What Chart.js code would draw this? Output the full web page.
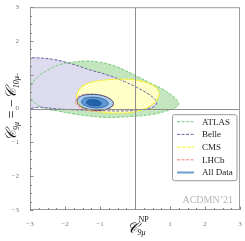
<!DOCTYPE html>
<html>
<head>
<meta charset="utf-8">
<script src="https://cdn.jsdelivr.net/npm/chart.js@4.4.0/dist/chart.umd.min.js"></script>
<style>
  html, body { margin: 0; padding: 0; background: #fff; }
  #wrap { width: 245px; height: 241px; }
</style>
</head>
<body>
<div id="wrap"><canvas id="c"></canvas></div>
<script>
// contour outlines (x = C9, y = C9 = -C10), closed loops
var atlasX = [-3.0, -2.95, -2.8, -2.5, -2.15, -1.8, -1.4, -1.0, -0.55, 0.05, 0.45, 0.75, 1.0, 1.2, 1.25, 1.15, 0.9, 0.5, 0.1, -0.4, -0.85, -1.3, -1.8, -2.2, -2.55, -2.8, -2.95, -3.0];
var atlasY = [0.42, 0.7, 0.92, 1.13, 1.3, 1.37, 1.41, 1.37, 1.25, 0.96, 0.75, 0.6, 0.43, 0.25, 0.13, 0.03, -0.07, -0.17, -0.22, -0.25, -0.26, -0.22, -0.15, -0.07, -0.01, 0.12, 0.27, 0.42];

var belleX = [-3.2, -2.75, -2.3, -1.8, -1.3, -0.8, -0.3, 0.1, 0.4, 0.57, 0.62, 0.56, 0.4, 0.1, -0.4, -1.0, -1.6, -2.2, -2.7, -3.2, -3.2];
var belleY = [1.5, 1.5, 1.45, 1.32, 1.15, 1.0, 0.8, 0.6, 0.42, 0.27, 0.17, 0.07, 0.0, -0.05, -0.07, -0.06, -0.04, -0.01, 0.04, 0.06, 1.5];

var cmsX = [-1.67, -1.6, -1.45, -1.25, -1.0, -0.7, -0.4, -0.1, 0.2, 0.45, 0.62, 0.69, 0.66, 0.55, 0.35, 0.1, -0.2, -0.6, -1.0, -1.3, -1.53, -1.64, -1.67];
var cmsY = [0.37, 0.55, 0.7, 0.78, 0.83, 0.86, 0.87, 0.86, 0.81, 0.72, 0.6, 0.45, 0.32, 0.17, 0.03, -0.07, -0.12, -0.13, -0.1, -0.04, 0.06, 0.2, 0.37];

var lhcbX = [-1.7, -1.64, -1.5, -1.3, -1.1, -0.9, -0.72, -0.62, -0.64, -0.75, -0.92, -1.12, -1.33, -1.53, -1.66, -1.7];
var lhcbY = [0.22, 0.33, 0.41, 0.43, 0.42, 0.37, 0.28, 0.17, 0.07, -0.01, -0.06, -0.08, -0.06, 0.01, 0.11, 0.22];

// global fit: 3, 2 and 1 sigma
var all3X = [-1.66, -1.6, -1.45, -1.25, -1.05, -0.85, -0.7, -0.62, -0.64, -0.75, -0.9, -1.1, -1.3, -1.5, -1.62, -1.66];
var all3Y = [0.24, 0.33, 0.4, 0.42, 0.41, 0.36, 0.28, 0.18, 0.09, 0.01, -0.04, -0.05, -0.03, 0.04, 0.13, 0.24];
var all2X = [-1.53, -1.47, -1.35, -1.2, -1.03, -0.88, -0.78, -0.77, -0.84, -0.97, -1.12, -1.28, -1.42, -1.51, -1.53];
var all2Y = [0.22, 0.29, 0.33, 0.34, 0.32, 0.27, 0.2, 0.13, 0.07, 0.03, 0.02, 0.04, 0.09, 0.15, 0.22];
var all1X = [-1.39, -1.34, -1.24, -1.12, -1.01, -0.96, -0.98, -1.07, -1.19, -1.31, -1.38, -1.39];
var all1Y = [0.2, 0.25, 0.27, 0.26, 0.22, 0.16, 0.11, 0.08, 0.08, 0.11, 0.15, 0.2];

var legendLabels = ['ATLAS', 'Belle', 'CMS', 'LHCb', 'All Data'];
var tickValues = [-3, -2, -1, 0, 1, 2, 3];

function pts(xs, ys) {
  return xs.map(function(x, i) { return {x: x, y: ys[i]}; });
}

function region(label, xs, ys, fillColor, lineColor, dash, width, order, inLegend) {
  return {
    label: label,
    data: pts(xs, ys),
    showLine: true,
    fill: 'shape',
    backgroundColor: fillColor,
    borderColor: lineColor,
    borderWidth: width,
    borderDash: dash,
    pointRadius: 0,
    pointHoverRadius: 0,
    tension: 0.4,
    order: order,
    inLegend: inLegend
  };
}

var datasets = [
  region(legendLabels[0], atlasX, atlasY, '#c3e6bf', '#79cc79', [3, 1.5], 1, 8, true),
  region(legendLabels[1], belleX, belleY, '#dcdcee', '#6c62a6', [3, 1.5], 1, 7, true),
  region(legendLabels[2], cmsX, cmsY, '#ffffc8', '#f5ee2a', [4, 1], 1.1, 6, true),
  region(legendLabels[3], lhcbX, lhcbY, '#fbd3cf', '#f08476', [3, 1.5], 1, 5, true),
  region(legendLabels[4], all3X, all3Y, '#a6cdef', '#263e78', [], 0.8, 4, true),
  region('2s', all2X, all2Y, '#5b9ad6', '#2a4a86', [], 0.7, 3, false),
  region('1s', all1X, all1Y, '#1f63ad', '#2a4a86', [], 0.6, 2, false)
];
datasets[4].legendColor = '#6e9dd0';

var serif = "'Liberation Serif', 'DejaVu Serif', serif";
Chart.defaults.font.family = serif;

function tickText(v) {
  if (tickValues.indexOf(v) < 0) return '';
  return v < 0 ? '\u2212' + (-v) : String(v);
}

// zero lines, frame and inward ticks
var framePlugin = {
  id: 'frame',
  afterDatasetsDraw: function(chart) {
    var ctx = chart.ctx, a = chart.chartArea;
    var sx = chart.scales.x, sy = chart.scales.y;
    ctx.save();
    ctx.lineWidth = 1;
    ctx.strokeStyle = '#8e8e8e';
    var x0 = Math.round(sx.getPixelForValue(0)) + 0.5;
    var y0 = Math.round(sy.getPixelForValue(0)) + 0.5;
    ctx.beginPath();
    ctx.moveTo(x0, a.top); ctx.lineTo(x0, a.bottom);
    ctx.moveTo(a.left, y0); ctx.lineTo(a.right, y0);
    ctx.stroke();

    ctx.strokeStyle = '#9c9c9c';
    ctx.strokeRect(a.left + 0.5, a.top + 0.5, a.right - a.left - 1, a.bottom - a.top - 1);

    ctx.strokeStyle = '#888';
    ctx.beginPath();
    sx.ticks.forEach(function(t) {
      var len = tickValues.indexOf(t.value) >= 0 ? 3.5 : 2;
      var p = Math.round(sx.getPixelForValue(t.value)) + 0.5;
      ctx.moveTo(p, a.bottom); ctx.lineTo(p, a.bottom - len);
    });
    sy.ticks.forEach(function(t) {
      var len = tickValues.indexOf(t.value) >= 0 ? 3.5 : 2;
      var p = Math.round(sy.getPixelForValue(t.value)) + 0.5;
      ctx.moveTo(a.left, p); ctx.lineTo(a.left + len, p);
    });
    ctx.stroke();
    ctx.restore();
  }
};

// legend box in the lower right, plus the ACDMN tag
var legendPlugin = {
  id: 'boxLegend',
  afterDraw: function(chart) {
    var ctx = chart.ctx, a = chart.chartArea;
    var bx = a.right - 68, by = a.top + 107, bw = 64.5, bh = 66;
    ctx.save();
    ctx.fillStyle = '#fff';
    ctx.strokeStyle = '#9a9a9a';
    ctx.lineWidth = 1;
    ctx.beginPath();
    ctx.roundRect(bx + 0.5, by + 0.5, bw, bh, 2);
    ctx.fill(); ctx.stroke();

    ctx.font = '9px ' + serif;
    ctx.textBaseline = 'middle';
    var row = 0;
    chart.data.datasets.forEach(function(ds) {
      if (!ds.inLegend) return;
      var y = by + 7.5 + row * 12.7;
      ctx.strokeStyle = ds.legendColor || ds.borderColor;
      ctx.lineWidth = ds.legendColor ? 2 : 1;
      ctx.setLineDash(ds.borderDash);
      ctx.beginPath();
      ctx.moveTo(bx + 5, y); ctx.lineTo(bx + 22, y);
      ctx.stroke();
      ctx.setLineDash([]);
      ctx.fillStyle = '#222';
      ctx.fillText(ds.label, bx + 30, y + 0.5);
      row++;
    });

    ctx.fillStyle = '#b4b4b4';
    ctx.font = '10px ' + serif;
    ctx.textAlign = 'right';
    ctx.textBaseline = 'alphabetic';
    ctx.fillText('ACDMN\u201921', a.right - 7, a.bottom - 7);
    ctx.restore();
  }
};

// axis titles with sub/superscripts
var titlePlugin = {
  id: 'mathTitles',
  afterDraw: function(chart) {
    var ctx = chart.ctx, a = chart.chartArea;
    var big = 'italic 15px ' + serif, small = 'italic 8px ' + serif, up = '8px ' + serif;
    var C = '\uD835\uDC9E';
    ctx.save();
    ctx.fillStyle = '#111';
    ctx.textBaseline = 'alphabetic';

    // x title
    var cx = (a.left + a.right) / 2;
    ctx.font = big;
    var cw = ctx.measureText(C).width;
    var x = cx - 8;
    ctx.fillText(C, x, 233);
    ctx.font = up;
    ctx.fillText('NP', x + cw + 0.5, 222);
    ctx.font = small;
    ctx.fillText('9\u03bc', x + cw - 0.5, 235);

    // y title, rotated
    var parts = [
      [C, big, 0], ['9\u03bc', small, 3], [' = \u2212', '14px ' + serif, 0],
      [C, big, 0], ['10\u03bc', small, 3]
    ];
    var total = 0;
    parts.forEach(function(p) { ctx.font = p[1]; p.push(ctx.measureText(p[0]).width); total += p[3]; });
    ctx.translate(16, (a.top + a.bottom) / 2);
    ctx.rotate(-Math.PI / 2);
    var px = -total / 2;
    parts.forEach(function(p) {
      ctx.font = p[1];
      ctx.fillText(p[0], px, p[2]);
      px += p[3];
    });
    ctx.restore();
  }
};

new Chart(document.getElementById('c'), {
  type: 'scatter',
  data: { datasets: datasets },
  options: {
    responsive: true,
    maintainAspectRatio: false,
    animation: false,
    events: [],
    layout: { padding: { top: 5, right: 5, left: 0, bottom: 0 } },
    plugins: {
      legend: { display: false },
      tooltip: { enabled: false },
      filler: { drawTime: 'beforeDatasetsDraw' }
    },
    scales: {
      x: {
        type: 'linear', min: -3, max: 3,
        grid: { display: false },
        border: { display: false },
        ticks: {
          stepSize: 0.25, autoSkip: false, maxRotation: 0, padding: 2,
          color: '#777', font: { size: 7 },
          callback: tickText
        },
        afterFit: function(s) { s.height = 31; }
      },
      y: {
        type: 'linear', min: -3, max: 3,
        grid: { display: false },
        border: { display: false },
        ticks: {
          stepSize: 0.25, autoSkip: false, padding: 3,
          color: '#777', font: { size: 7 },
          callback: tickText
        },
        afterFit: function(s) { s.width = 30; }
      }
    }
  },
  plugins: [framePlugin, legendPlugin, titlePlugin]
});
</script>
</body>
</html>
